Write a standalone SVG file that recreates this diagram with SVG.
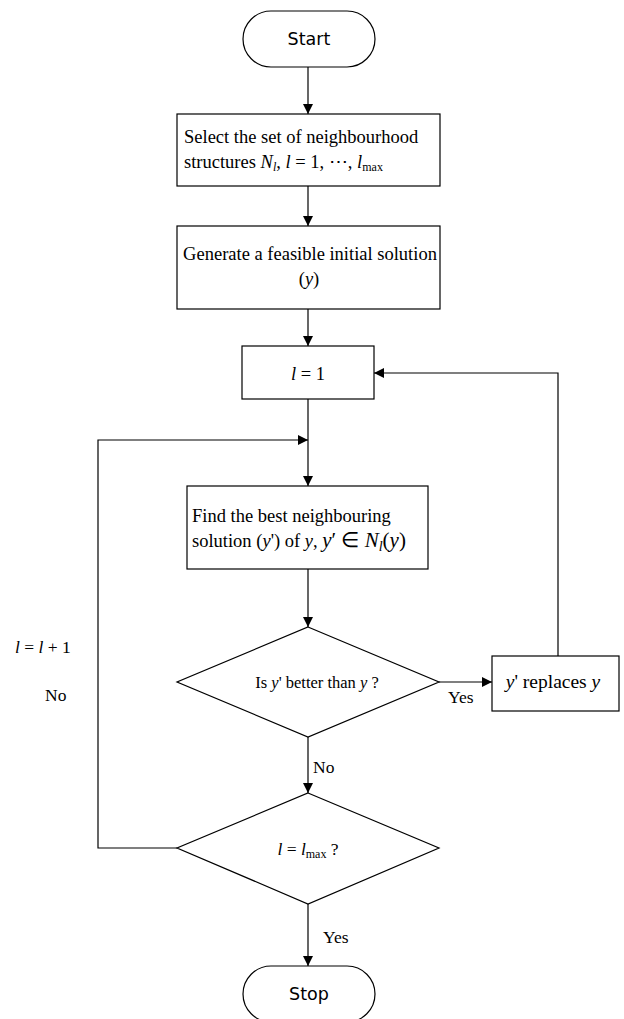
<svg xmlns="http://www.w3.org/2000/svg" width="624" height="1019" viewBox="0 0 624 1019">
<style>
.s{fill:#fff;stroke:#000;stroke-width:1.2}
.c{fill:none;stroke:#000;stroke-width:1.2}
.t{font-family:"Liberation Serif","Times New Roman",serif;font-size:17.5px;fill:#000}
.b{font-size:18.5px}
.d{font-size:16.5px}
.r{font-size:19.5px}
.sans{font-family:"DejaVu Sans",sans-serif;font-size:17.5px;fill:#000}
.i{font-style:italic}
.sub{font-size:12px}
</style>
<defs>
<marker id="ah" markerWidth="10" markerHeight="10" refX="10" refY="5" orient="auto" markerUnits="userSpaceOnUse"><path d="M0,0 L10,5 L0,10 Z" fill="#000"/></marker>
</defs>
<rect width="624" height="1019" fill="#fff"/>
<g id="connectors">
<path class="c" d="M308,67 V114" marker-end="url(#ah)"/>
<path class="c" d="M308,186 V226" marker-end="url(#ah)"/>
<path class="c" d="M308,309 V346" marker-end="url(#ah)"/>
<path class="c" d="M308,399 V486" marker-end="url(#ah)"/>
<path class="c" d="M308,569 V627" marker-end="url(#ah)"/>
<path class="c" d="M439,682 H492" marker-end="url(#ah)"/>
<path class="c" d="M558,656 V373 H374" marker-end="url(#ah)"/>
<path class="c" d="M308,737 V793" marker-end="url(#ah)"/>
<path class="c" d="M177,848 H98 V440 H308" marker-end="url(#ah)"/>
<path class="c" d="M308,904 V966" marker-end="url(#ah)"/>
</g>
<g id="start">
<rect class="s" x="243" y="11" width="132" height="56" rx="28"/>
<text class="sans" x="309" y="45" text-anchor="middle">Start</text>
</g>
<g id="select">
<rect class="s" x="177" y="114" width="263" height="72"/>
<text class="t b" x="184" y="143">Select the set of neighbourhood</text>
<text class="t b" x="184" y="168">structures <tspan class="i">N</tspan><tspan class="i sub" dy="3">l</tspan><tspan dy="-3">, </tspan><tspan class="i">l</tspan> = 1, ⋯, <tspan class="i">l</tspan><tspan class="sub" dy="3">max</tspan></text>
</g>
<g id="generate">
<rect class="s" x="177" y="226" width="263" height="83"/>
<text class="t b" x="310" y="260" text-anchor="middle">Generate a feasible initial solution</text>
<text class="t b" x="309" y="285" text-anchor="middle">(<tspan class="i">y</tspan>)</text>
</g>
<g id="l1">
<rect class="s" x="242" y="346" width="132" height="53"/>
<text class="t b" x="308" y="380" text-anchor="middle"><tspan class="i">l</tspan> = 1</text>
</g>
<g id="find">
<rect class="s" x="187" y="486" width="241" height="83"/>
<text class="t b" x="192" y="522">Find the best neighbouring</text>
<text class="t b" x="192" y="547">solution (<tspan class="i">y</tspan>') of <tspan class="i">y</tspan>,  <tspan class="i" font-size="21">y</tspan><tspan font-size="21">′ ∈ </tspan><tspan class="i" font-size="21">N</tspan><tspan class="i" font-size="14" dy="4">l</tspan><tspan font-size="21" dy="-4">(</tspan><tspan class="i" font-size="21">y</tspan><tspan font-size="21">)</tspan></text>
</g>
<g id="better">
<polygon class="s" points="308,627 439,682 308,737 177,682"/>
<text class="t d" x="317" y="688" text-anchor="middle">Is <tspan class="i">y</tspan>' better than <tspan class="i">y</tspan> ?</text>
</g>
<g id="replaces">
<rect class="s" x="492" y="656" width="127" height="55"/>
<text class="t r" x="553" y="688" text-anchor="middle"><tspan class="i">y</tspan>' replaces <tspan class="i">y</tspan></text>
</g>
<g id="lmax">
<polygon class="s" points="308,793 439,848 308,904 177,848"/>
<text class="t" x="308" y="855" text-anchor="middle"><tspan class="i">l</tspan> = <tspan class="i">l</tspan><tspan class="sub" dy="3">max</tspan><tspan dy="-3"> ?</tspan></text>
</g>
<g id="stop">
<rect class="s" x="243" y="966" width="132" height="56" rx="28"/>
<text class="sans" x="309" y="1000" text-anchor="middle">Stop</text>
</g>
<g id="labels">
<text class="t" x="448" y="703">Yes</text>
<text class="t" x="313" y="773">No</text>
<text class="t" x="323" y="943">Yes</text>
<text class="t" x="15" y="653"><tspan class="i">l</tspan> = <tspan class="i">l</tspan> + 1</text>
<text class="t" x="45" y="701">No</text>
</g>
</svg>
